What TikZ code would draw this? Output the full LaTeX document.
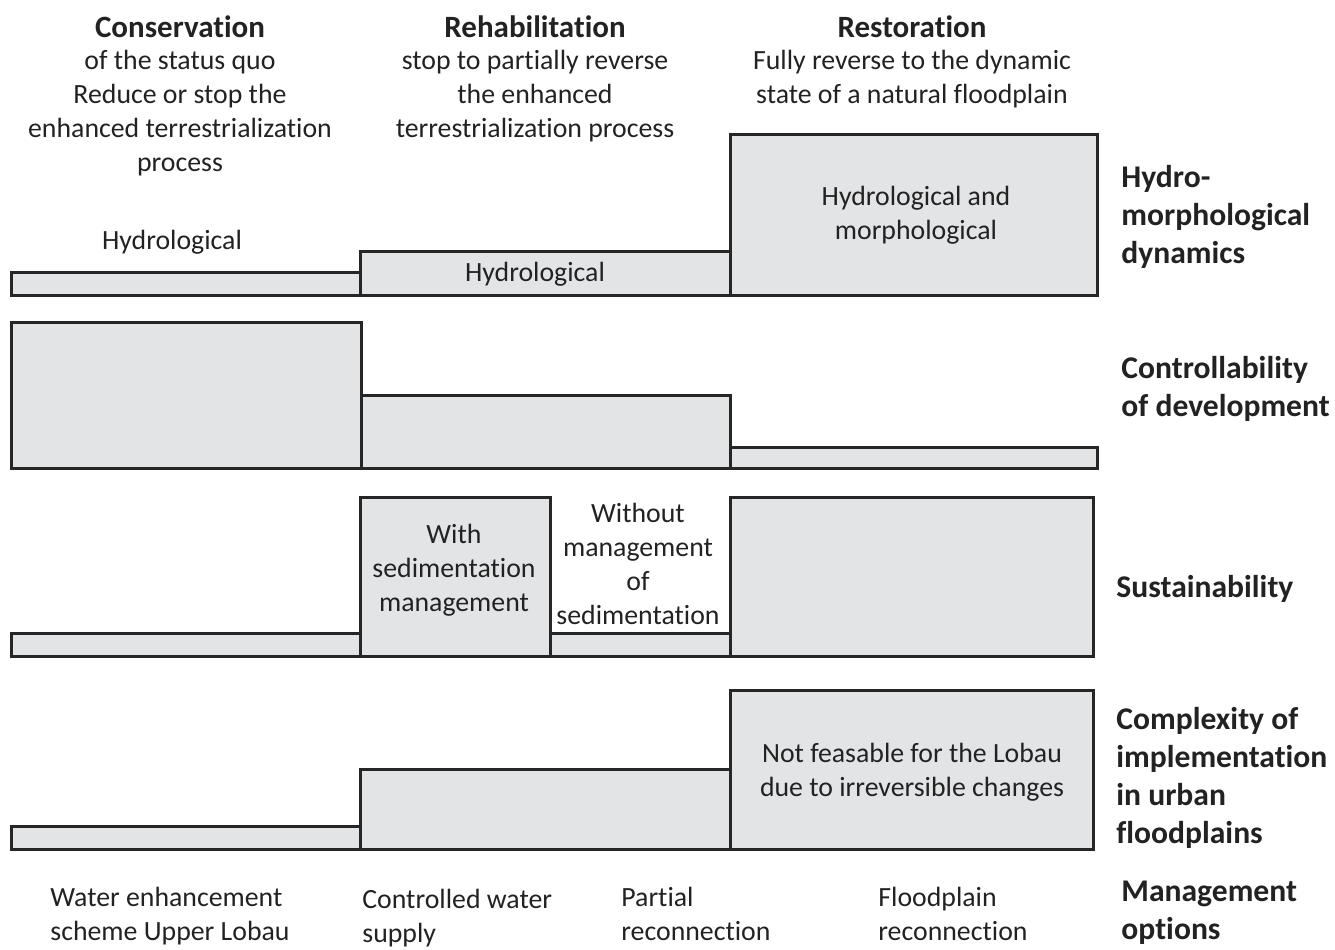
\documentclass[tikz,border=0pt]{standalone}
\usepackage{fontspec}
\setmainfont{Carlito}[Ligatures=CommonOff]
\definecolor{bargray}{HTML}{E3E4E6}
\definecolor{linegray}{HTML}{262626}
\definecolor{textgray}{HTML}{222222}
\begin{document}
\begin{tikzpicture}[
    x=0.5pt, y=-0.5pt,
    bar/.style={draw=linegray, fill=bargray, line width=1.5pt},
    lbl/.style={font=\fontsize{13.9}{17}\selectfont, align=center, text=textgray, inner sep=0pt, yshift=-1pt},
    head/.style={font=\fontsize{15.5}{17}\selectfont\bfseries, text=textgray, inner sep=0pt, yshift=-1pt},
    crit/.style={font=\fontsize{15.8}{19}\selectfont\bfseries, align=left, anchor=west, text=textgray, inner sep=0pt, yshift=-1.2pt},
    opt/.style={lbl, align=left, anchor=west, yshift=2pt}
]
    \useasboundingbox (0,0) rectangle (1335,949);

    % Column heads
    \node[head] (hcons) at (180,25) {Conservation};
    \node[head] (hreha) at (535,25) {Rehabilitation};
    \node[head] (hrest) at (912,25) {Restoration};
    \node[lbl] (dcons) at (180,111) {of the status quo\\Reduce or stop the\\enhanced terrestrialization\\process};
    \node[lbl] (dreha) at (535,94) {stop to partially reverse\\the enhanced\\terrestrialization process};
    \node[lbl] (drest) at (912,77) {Fully reverse to the dynamic\\state of a natural floodplain};

    % Row 1: hydromorphological dynamics
    \draw[bar] (11,272) rectangle (360,295);
    \draw[bar] (360,251) rectangle (730,295);
    \draw[bar] (730,134) rectangle (1097,295);
    \node[lbl] (h1) at (172,240) {Hydrological};
    \node[lbl] (h2) at (535,272) {Hydrological};
    \node[lbl] (h3) at (916,213) {Hydrological and\\morphological};

    % Row 2: controllability
    \draw[bar] (11,322) rectangle (361,468);
    \draw[bar] (361,395) rectangle (730,468);
    \draw[bar] (730,447) rectangle (1097,468);

    % Row 3: sustainability
    \draw[bar] (11,633) rectangle (360,656);
    \draw[bar] (360,497) rectangle (550,656);
    \draw[bar] (550,633) rectangle (730,656);
    \draw[bar] (730,497) rectangle (1093,656);
    \node[lbl] (s1) at (454,568) {With\\sedimentation\\management};
    \node[lbl] (s2) at (638,562) {Without\\management\\of\\sedimentation};

    % Row 4: complexity
    \draw[bar] (11,826) rectangle (360,849);
    \draw[bar] (360,769) rectangle (730,849);
    \draw[bar] (730,690) rectangle (1093,849);
    \node[lbl] (c3) at (912,770) {Not feasable for the Lobau\\due to irreversible changes};

    % Criteria
    \node[crit] (khyd) at (1121,214) {Hydro-\\morphological\\dynamics};
    \node[crit] (kcon) at (1121,386) {Controllability\\of development};
    \node[crit] (ksus) at (1116,586) {Sustainability};
    \node[crit] (kcom) at (1116,775) {Complexity of\\implementation\\in urban\\floodplains};
    \node[crit] (kman) at (1121,910) {Management\\options};

    % Management options
    \node[opt] (m1) at (50,918) {Water enhancement\\scheme Upper Lobau};
    \node[opt] (m2) at (362,920) {Controlled water\\supply};
    \node[opt] (m3) at (621,916) {Partial\\reconnection};
    \node[opt] (m4) at (878,916) {Floodplain\\reconnection};

\end{tikzpicture}
\end{document}
